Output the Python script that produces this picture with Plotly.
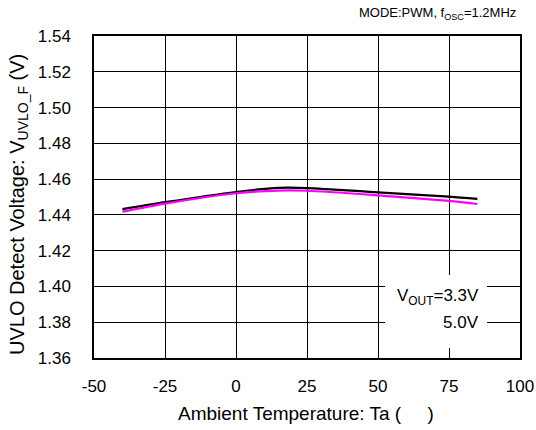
import plotly.graph_objects as go

temps = [-40, -25, 0, 15, 25, 50, 75, 85]
v_33 = [1.4432, 1.4471, 1.4528, 1.4551, 1.4550, 1.4526, 1.4502, 1.4489]
v_50 = [1.4418, 1.4463, 1.4521, 1.4536, 1.4535, 1.4509, 1.4478, 1.4461]

x_ticks = [-50, -25, 0, 25, 50, 75, 100]
y_ticks = [1.36, 1.38, 1.40, 1.42, 1.44, 1.46, 1.48, 1.50, 1.52, 1.54]

FONT = "Liberation Sans, Arial, sans-serif"

fig = go.Figure()
fig.add_trace(go.Scatter(x=temps, y=v_33, mode="lines", line=dict(color="black", width=2.2, shape="spline", smoothing=0.8), name="3.3V"))
fig.add_trace(go.Scatter(x=temps, y=v_50, mode="lines", line=dict(color="#FF00FF", width=2.2, shape="spline", smoothing=0.8), name="5.0V"))

L, T, R, B = 94, 36, 520, 358  # plot area in window pixels


def px(x):
    return (x - L) / (R - L)


def py(y):
    return (B - y) / (B - T)


fig.update_layout(
    width=536, height=430,
    margin=dict(l=L, r=536 - R, t=T, b=430 - B),
    plot_bgcolor="white", paper_bgcolor="white",
    showlegend=False,
    font=dict(family=FONT, size=17, color="black"),
)
fig.update_xaxes(
    range=[-50, 100], tickvals=x_ticks, ticktext=[str(v) for v in x_ticks],
    showgrid=True, gridcolor="black", gridwidth=1,
    showline=True, linecolor="black", linewidth=1.5, mirror=True,
    zeroline=False, ticks="", ticklabelstandoff=12, automargin=False,
)
fig.update_yaxes(
    range=[1.36, 1.54], tickvals=y_ticks, ticktext=[f"{v:.2f}" for v in y_ticks],
    showgrid=True, gridcolor="black", gridwidth=1,
    showline=True, linecolor="black", linewidth=1.5, mirror=True,
    zeroline=False, ticks="", ticklabelstandoff=18, automargin=False,
)

fig.add_shape(type="rect", xref="x", yref="y", x0=52.5, x1=88.4, y0=1.3656, y1=1.4064,
              fillcolor="white", line=dict(width=0), layer="above")

# axis titles
fig.add_annotation(text="Ambient Temperature: Ta (     )", xref="paper", yref="paper",
                   x=px(306), y=py(414), xanchor="center", yanchor="middle",
                   showarrow=False, font=dict(size=19))
fig.add_annotation(text="UVLO Detect Voltage: V<sub>UVLO_F</sub> (V)", xref="paper", yref="paper",
                   x=px(18), y=py(205), xanchor="center", yanchor="middle", textangle=-90,
                   showarrow=False, font=dict(size=20))

# legend text and condition note
fig.add_annotation(text="V<sub>OUT</sub>=3.3V", xref="paper", yref="paper",
                   x=px(481), y=py(297), xanchor="right", yanchor="middle",
                   showarrow=False, font=dict(size=17))
fig.add_annotation(text="5.0V", xref="paper", yref="paper",
                   x=px(481), y=py(322), xanchor="right", yanchor="middle",
                   showarrow=False, font=dict(size=17))
fig.add_annotation(text="MODE:PWM, f<sub>OSC</sub>=1.2MHz", xref="paper", yref="paper",
                   x=px(518), y=py(14), xanchor="right", yanchor="middle",
                   showarrow=False, font=dict(size=13))

fig.write_html("out.html", config={"displayModeBar": False},
               post_script="document.body.style.margin='0';document.body.style.overflow='hidden';")
